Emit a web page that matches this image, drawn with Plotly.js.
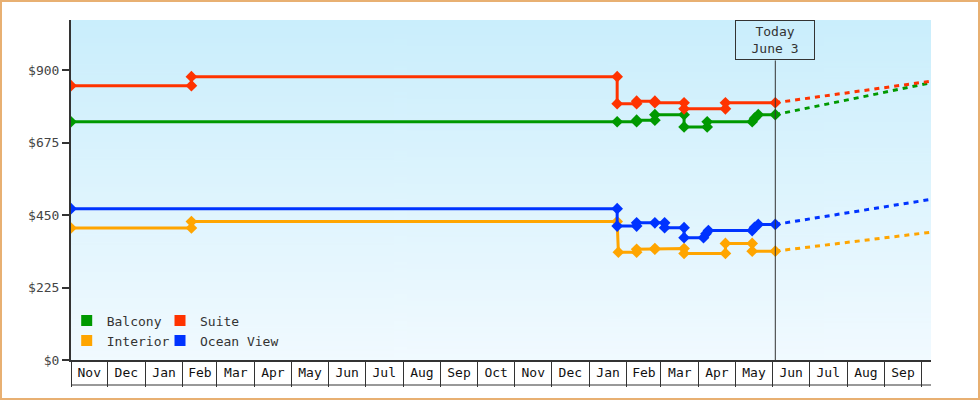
<!DOCTYPE html>
<html>
<head>
<meta charset="utf-8">
<script src="https://cdn.plot.ly/plotly-3.0.1.min.js"></script>
<style>
  html, body { margin: 0; padding: 0; background: #fff; }
  #chart { width: 980px; height: 400px; box-sizing: border-box; border: 2px solid #e8b072; }
</style>
</head>
<body>
<div id="chart"></div>
<script>
// price history
var balconyDates = ['2021-11-01','2023-01-24','2023-02-09','2023-02-09','2023-02-24','2023-02-24','2023-03-20','2023-03-20','2023-04-08','2023-04-08','2023-05-15','2023-05-17','2023-05-20','2023-06-03'];
var balconyPrices = [740,740,740,745,745,762,762,724,724,740,740,751,762,762];

var suiteDates = ['2021-11-01','2022-02-08','2022-02-08','2023-01-24','2023-01-24','2023-02-09','2023-02-09','2023-02-24','2023-02-24','2023-03-20','2023-03-20','2023-04-23','2023-04-23','2023-06-03'];
var suitePrices = [852,852,880,880,796,796,804,804,799,799,780,780,799,799];

var interiorDates = ['2021-11-01','2022-02-08','2022-02-08','2023-01-24','2023-01-25','2023-02-09','2023-02-09','2023-02-24','2023-02-24','2023-03-20','2023-03-20','2023-04-23','2023-04-23','2023-05-15','2023-05-15','2023-06-03'];
var interiorPrices = [410,410,430,430,335,335,344,344,346,346,331,331,362,362,338,338];

var oceanDates = ['2021-11-01','2023-01-24','2023-01-24','2023-02-09','2023-02-09','2023-02-24','2023-03-04','2023-03-04','2023-03-20','2023-03-20','2023-04-05','2023-04-07','2023-04-09','2023-05-15','2023-05-17','2023-05-20','2023-06-03'];
var oceanPrices = [470,470,416,416,426,426,426,411,411,380,380,392,402,402,412,421,421];

// forecast from today to the right edge
var forecastDates = ['2023-06-03','2023-10-09'];
var balconyForecast = [762,861];
var suiteForecast = [799,866];
var interiorForecast = [338,397];
var oceanForecast = [421,499];

var names = ['Balcony','Suite','Interior','Ocean View'];
var colors = ['#009900','#ff3300','#ffa500','#0033ff'];
var today = '2023-06-03';
var todayLabel = 'Today<br>June 3';
var priceTicks = [0,225,450,675,900];
var priceLabels = ['$0','$225','$450','$675','$900'];

var FONT = 'DejaVu Sans Mono, monospace';

// gradient background for the plot area
var cv = document.createElement('canvas');
cv.width = 4; cv.height = 256;
var g = cv.getContext('2d');
var grad = g.createLinearGradient(0, 0, 0, 256);
grad.addColorStop(0, '#caeefc');
grad.addColorStop(1, '#f1faff');
g.fillStyle = grad;
g.fillRect(0, 0, 4, 256);
var bgImg = cv.toDataURL();

function history(x, y, c) {
  return {
    x: x, y: y, type: 'scatter', mode: 'lines+markers',
    line: {color: c, width: 3},
    marker: {symbol: 'diamond', size: 9, color: c},
    showlegend: false, hoverinfo: 'skip'
  };
}
function forecast(y, c) {
  return {
    x: forecastDates, y: y, type: 'scatter', mode: 'lines',
    line: {color: c, width: 3, dash: '5px,5px'},
    showlegend: false, hoverinfo: 'skip'
  };
}
function key(i, leg) {
  return {
    x: [null], y: [null], type: 'scatter', mode: 'markers', name: names[i],
    marker: {symbol: 'square', size: 11, color: colors[i]},
    legend: leg
  };
}

var data = [
  forecast(balconyForecast, colors[0]),
  forecast(suiteForecast, colors[1]),
  forecast(interiorForecast, colors[2]),
  forecast(oceanForecast, colors[3]),
  history(interiorDates, interiorPrices, colors[2]),
  history(oceanDates, oceanPrices, colors[3]),
  history(balconyDates, balconyPrices, colors[0]),
  history(suiteDates, suitePrices, colors[1]),
  key(0, 'legend'), key(2, 'legend'),
  key(1, 'legend2'), key(3, 'legend2')
];

var legendStyle = {
  orientation: 'v', bgcolor: 'rgba(0,0,0,0)', borderwidth: 0,
  font: {family: FONT, size: 13, color: '#333'},
  yanchor: 'bottom', y: 0.013, xanchor: 'left', tracegroupgap: 0
};

var layout = {
  width: 976, height: 396,
  margin: {l: 69, r: 47, t: 18, b: 38},
  paper_bgcolor: '#fff',
  plot_bgcolor: 'rgba(0,0,0,0)',
  font: {family: FONT, size: 13, color: '#333'},
  xaxis: {
    type: 'date',
    range: ['2021-11-01', '2023-10-09'],
    dtick: 'M1', tick0: '2021-11-01',
    tickformat: '%b', ticklabelmode: 'period',
    ticks: 'outside', ticklen: 25, tickwidth: 1, tickcolor: '#333',
    ticklabelstandoff: -26,
    tickfont: {family: FONT, size: 13, color: '#111'},
    showline: true, linecolor: '#333', linewidth: 2,
    showgrid: false, zeroline: false, fixedrange: true
  },
  yaxis: {
    range: [0, 1056],
    tickmode: 'array', tickvals: priceTicks, ticktext: priceLabels,
    ticks: 'outside', ticklen: 7, tickwidth: 2, tickcolor: '#333',
    tickfont: {family: FONT, size: 13, color: '#444'},
    showline: true, linecolor: '#333', linewidth: 2,
    showgrid: false, zeroline: false, fixedrange: true
  },
  legend: Object.assign({}, legendStyle, {x: -0.005}),
  legend2: Object.assign({}, legendStyle, {x: 0.1035}),
  images: [{
    source: bgImg, xref: 'paper', yref: 'paper',
    x: 0, y: 1, sizex: 1, sizey: 1, sizing: 'stretch',
    xanchor: 'left', yanchor: 'top', layer: 'below'
  }],
  shapes: [
    {type: 'line', xref: 'x', yref: 'paper', x0: today, x1: today, y0: 0, y1: 0.881,
     line: {color: '#333', width: 1}},
    {type: 'line', xref: 'paper', yref: 'paper', ysizemode: 'pixel', yanchor: 0,
     x0: 0, x1: 1, y0: -25, y1: -25, line: {color: '#333', width: 1}}
  ],
  annotations: [{
    text: todayLabel, x: today, xref: 'x', y: 1, yref: 'paper',
    xanchor: 'center', yanchor: 'top', showarrow: false,
    width: 78, height: 38, borderpad: 0, borderwidth: 1, bordercolor: '#333',
    font: {family: FONT, size: 13, color: '#333'}
  }]
};

Plotly.newPlot('chart', data, layout, {displayModeBar: false, staticPlot: true});
</script>
</body>
</html>
